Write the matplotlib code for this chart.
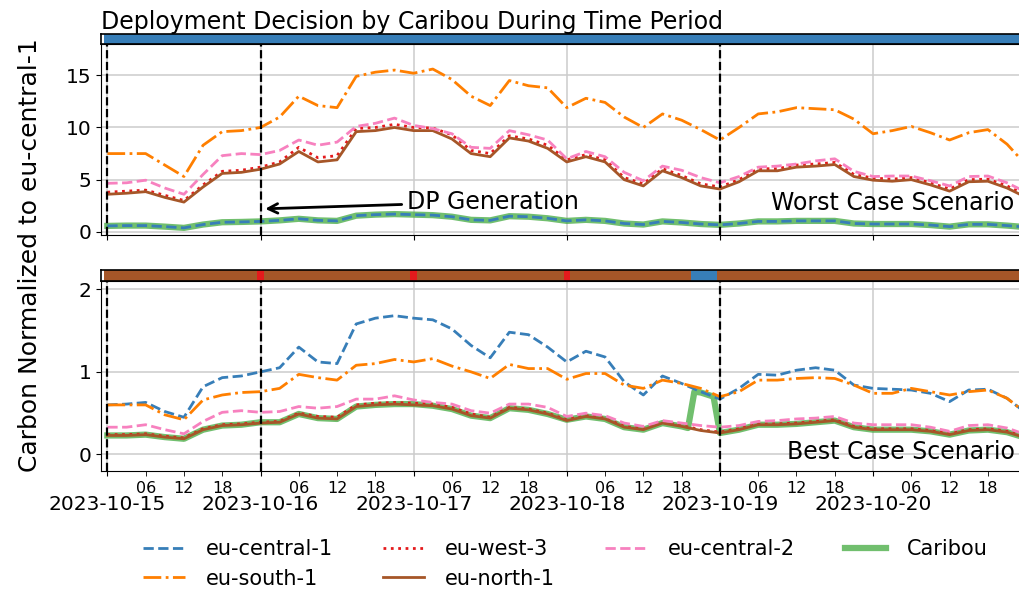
import pandas as pd
import matplotlib
matplotlib.use("Agg")
import matplotlib.pyplot as plt
import matplotlib.dates as mdates

OUTPUT_PATH = "out.png"

# 3-hourly samples starting 2023-10-15 00:00 (49 points)
times = pd.date_range("2023-10-15 00:00", periods=49, freq="3h")

# ---- worst case (top panel) ----
central1_worst = [0.57, 0.6, 0.6, 0.5, 0.38, 0.7, 0.92, 0.95, 1.0, 1.1, 1.25, 1.1, 1.05,
                  1.55, 1.65, 1.7, 1.65, 1.6, 1.45, 1.15, 1.1, 1.5, 1.45, 1.3, 1.05, 1.15,
                  1.05, 0.8, 0.7, 1.0, 0.9, 0.75, 0.67, 0.8, 1.0, 1.0, 1.05, 1.05, 1.05,
                  0.8, 0.75, 0.75, 0.75, 0.65, 0.5, 0.72, 0.72, 0.6, 0.45]
south1_worst = [7.5, 7.5, 7.5, 6.4, 5.3, 8.3, 9.6, 9.7, 10.0, 11.0, 13.0, 12.1, 11.9,
                14.9, 15.3, 15.5, 15.2, 15.6, 14.6, 13.0, 12.1, 14.5, 14.0, 13.8, 11.9,
                12.8, 12.4, 11.0, 10.0, 11.3, 10.7, 9.8, 8.8, 10.0, 11.3, 11.5, 11.9,
                11.8, 11.7, 10.8, 9.4, 9.7, 10.1, 9.5, 8.8, 9.5, 9.8, 8.4, 6.4]
west3_worst = [3.8, 3.9, 4.0, 3.5, 3.0, 4.5, 5.8, 5.9, 6.2, 6.7, 8.1, 7.1, 7.3, 9.9,
               10.0, 10.3, 10.0, 9.95, 9.3, 7.8, 7.5, 9.2, 8.9, 8.3, 6.9, 7.4, 6.9, 5.2,
               4.6, 6.05, 5.4, 4.6, 4.3, 5.0, 6.05, 6.05, 6.4, 6.5, 6.65, 5.5, 5.15,
               5.05, 5.2, 4.7, 4.1, 5.0, 5.05, 4.4, 3.5]
north1_worst = [3.6, 3.7, 3.85, 3.3, 2.85, 4.3, 5.6, 5.7, 6.0, 6.5, 7.7, 6.7, 6.9, 9.6,
                9.7, 10.0, 9.7, 9.7, 8.9, 7.5, 7.2, 9.0, 8.7, 8.0, 6.7, 7.2, 6.7, 5.0,
                4.4, 5.85, 5.2, 4.4, 4.1, 4.8, 5.85, 5.85, 6.2, 6.3, 6.45, 5.3, 4.95,
                4.85, 5.0, 4.5, 3.9, 4.8, 4.85, 4.2, 3.3]
central2_worst = [4.65, 4.7, 4.95, 4.2, 3.6, 5.5, 7.3, 7.5, 7.4, 7.8, 8.8, 8.3, 8.6,
                  10.1, 10.4, 10.9, 10.2, 9.9, 9.4, 8.1, 8.0, 9.7, 9.3, 8.8, 7.0, 7.7,
                  7.2, 5.7, 4.9, 6.3, 5.9, 5.2, 4.7, 5.3, 6.2, 6.3, 6.5, 6.8, 7.0, 5.8,
                  5.3, 5.35, 5.35, 4.9, 4.4, 5.3, 5.35, 4.7, 3.8]
caribou_worst = [0.57, 0.6, 0.6, 0.5, 0.38, 0.7, 0.92, 0.95, 1.0, 1.1, 1.25, 1.1, 1.05,
                 1.55, 1.65, 1.7, 1.65, 1.6, 1.45, 1.15, 1.1, 1.5, 1.45, 1.3, 1.05, 1.15,
                 1.05, 0.8, 0.7, 1.0, 0.9, 0.75, 0.67, 0.8, 1.0, 1.0, 1.05, 1.05, 1.05,
                 0.8, 0.75, 0.75, 0.75, 0.65, 0.5, 0.72, 0.72, 0.6, 0.45]

# ---- best case (bottom panel) ----
central1_best = [0.6, 0.61, 0.63, 0.52, 0.45, 0.82, 0.93, 0.95, 1.0, 1.05, 1.3, 1.12,
                 1.1, 1.58, 1.65, 1.68, 1.65, 1.63, 1.52, 1.32, 1.17, 1.48, 1.45, 1.3,
                 1.12, 1.25, 1.18, 0.88, 0.72, 0.95, 0.86, 0.76, 0.67, 0.8, 0.97, 0.96,
                 1.02, 1.05, 1.02, 0.84, 0.8, 0.79, 0.78, 0.74, 0.64, 0.78, 0.79, 0.68, 0.5]
south1_best = [0.6, 0.6, 0.6, 0.48, 0.42, 0.66, 0.72, 0.75, 0.76, 0.8, 0.97, 0.93, 0.9,
               1.08, 1.1, 1.15, 1.12, 1.16, 1.07, 1.0, 0.92, 1.09, 1.04, 1.04, 0.91,
               0.98, 0.98, 0.84, 0.8, 0.9, 0.86, 0.8, 0.7, 0.76, 0.9, 0.9, 0.92, 0.93,
               0.92, 0.84, 0.74, 0.74, 0.8, 0.76, 0.72, 0.76, 0.78, 0.68, 0.5]
west3_best = [0.24, 0.24, 0.25, 0.22, 0.2, 0.31, 0.36, 0.37, 0.39, 0.4, 0.5, 0.46, 0.45,
              0.6, 0.62, 0.63, 0.62, 0.61, 0.57, 0.49, 0.45, 0.57, 0.55, 0.5, 0.42,
              0.47, 0.44, 0.34, 0.31, 0.39, 0.35, 0.3, 0.27, 0.31, 0.37, 0.37, 0.38,
              0.4, 0.42, 0.34, 0.31, 0.31, 0.31, 0.29, 0.25, 0.3, 0.31, 0.28, 0.21]
north1_best = [0.23, 0.23, 0.24, 0.21, 0.19, 0.3, 0.35, 0.36, 0.38, 0.39, 0.49, 0.44,
               0.43, 0.58, 0.6, 0.61, 0.6, 0.59, 0.55, 0.47, 0.44, 0.56, 0.54, 0.49,
               0.41, 0.46, 0.43, 0.33, 0.3, 0.38, 0.34, 0.29, 0.26, 0.3, 0.36, 0.36,
               0.37, 0.39, 0.41, 0.33, 0.3, 0.3, 0.3, 0.28, 0.24, 0.29, 0.3, 0.27, 0.2]
central2_best = [0.33, 0.33, 0.36, 0.3, 0.25, 0.4, 0.51, 0.53, 0.51, 0.52, 0.58, 0.56,
                 0.58, 0.67, 0.67, 0.71, 0.66, 0.63, 0.61, 0.53, 0.5, 0.61, 0.61, 0.57,
                 0.46, 0.5, 0.47, 0.38, 0.34, 0.41, 0.38, 0.35, 0.33, 0.35, 0.4, 0.41,
                 0.43, 0.44, 0.46, 0.38, 0.36, 0.36, 0.36, 0.33, 0.28, 0.35, 0.36, 0.32, 0.24]
# Caribou best case has extra hourly points around the switch on 2023-10-18 evening
caribou_best_hours = list(range(0, 91, 3)) + [91, 92, 93, 95, 96] + list(range(99, 145, 3))
caribou_best = [0.23, 0.23, 0.24, 0.21, 0.19, 0.3, 0.35, 0.36, 0.39, 0.39, 0.49, 0.44,
                0.43, 0.58, 0.6, 0.61, 0.61, 0.59, 0.55, 0.47, 0.44, 0.56, 0.54, 0.49,
                0.42, 0.46, 0.43, 0.33, 0.3, 0.38, 0.34, 0.32, 0.76, 0.75, 0.7, 0.26,
                0.3, 0.36, 0.36, 0.37, 0.39, 0.41, 0.33, 0.3, 0.3, 0.3, 0.28, 0.24, 0.29,
                0.3, 0.27, 0.2]

# Deployment decision per hour (144 hours): base region + exceptions
worst_base = "eu-central-1"
worst_exceptions = {}
best_base = "eu-north-1"
best_exceptions = {24: "eu-west-3", 48: "eu-west-3", 72: "eu-west-3",
                   92: "eu-central-1", 93: "eu-central-1", 94: "eu-central-1", 95: "eu-central-1"}

dp_lines = ["2023-10-15 00:00", "2023-10-16 00:00", "2023-10-19 00:00"]

REGIONS = ["eu-central-1", "eu-south-1", "eu-west-3", "eu-north-1", "eu-central-2"]
COLORS = {"eu-central-1": "#377eb8", "eu-south-1": "#ff7f00", "eu-west-3": "#e41a1c",
          "eu-north-1": "#a65628", "eu-central-2": "#f781bf"}
STYLES = {"eu-central-1": "--", "eu-south-1": "-.", "eu-west-3": ":",
          "eu-north-1": "-", "eu-central-2": "--"}

start = pd.Timestamp("2023-10-15 00:00")
xmin = start - pd.Timedelta(hours=1)
xmax = start + pd.Timedelta(hours=143.05)


def draw_bar(ax, base, exceptions):
    segs = {}
    for h in range(144):
        reg = exceptions.get(h, base)
        t0 = mdates.date2num(start + pd.Timedelta(hours=h - 0.5))
        segs.setdefault(reg, []).append((t0, 1 / 24))
    for reg, s in segs.items():
        ax.broken_barh(s, (0, 1), facecolors=COLORS[reg], edgecolor="none")
    ax.set_xlim(xmin, xmax)
    ax.set_ylim(0, 1)
    ax.set_xticks([])
    ax.set_yticks([])
    for sp in ax.spines.values():
        sp.set_linewidth(1.2)


def draw_panel(ax, series, caribou_t, caribou_v):
    ax.plot(caribou_t, caribou_v, color="#4daf4a", alpha=0.8, lw=4.5, zorder=2)
    for reg in REGIONS:
        ax.plot(times, series[reg], color=COLORS[reg], ls=STYLES[reg], lw=2, zorder=3)
    for d in dp_lines:
        ax.axvline(pd.Timestamp(d), color="black", ls="--", lw=1.6, zorder=4)
    ax.set_xlim(xmin, xmax)
    ax.grid(True, color="#cccccc", lw=1.1)
    ax.xaxis.set_major_locator(mdates.DayLocator())
    ax.tick_params(axis="both", which="major", labelsize=14.5)


fig = plt.figure(figsize=(10.19, 5.97), dpi=100)
L, W = 0.0991, 0.902
ax_bar_top = fig.add_axes([L, 0.9263, W, 0.0167])
ax_top = fig.add_axes([L, 0.6064, W, 0.3199])
ax_bar_bot = fig.add_axes([L, 0.5293, W, 0.0184])
ax_bot = fig.add_axes([L, 0.2111, W, 0.3182])

draw_bar(ax_bar_top, worst_base, worst_exceptions)
draw_bar(ax_bar_bot, best_base, best_exceptions)

worst = {"eu-central-1": central1_worst, "eu-south-1": south1_worst,
         "eu-west-3": west3_worst, "eu-north-1": north1_worst, "eu-central-2": central2_worst}
best = {"eu-central-1": central1_best, "eu-south-1": south1_best,
        "eu-west-3": west3_best, "eu-north-1": north1_best, "eu-central-2": central2_best}

draw_panel(ax_top, worst, times, caribou_worst)
caribou_best_t = [start + pd.Timedelta(hours=h) for h in caribou_best_hours]
draw_panel(ax_bot, best, caribou_best_t, caribou_best)

ax_top.set_ylim(-0.3, 18.0)
ax_top.set_yticks([0, 5, 10, 15])
ax_top.tick_params(axis="x", labelbottom=False)

ax_bot.set_ylim(-0.2, 2.1)
ax_bot.set_yticks([0, 1, 2])
ax_bot.xaxis.set_major_formatter(mdates.DateFormatter("%Y-%m-%d"))
ax_bot.xaxis.set_minor_locator(mdates.HourLocator(byhour=[6, 12, 18]))
ax_bot.xaxis.set_minor_formatter(mdates.DateFormatter("%H"))
ax_bot.tick_params(axis="x", which="major", pad=14, labelsize=14.5)
ax_bot.tick_params(axis="x", which="minor", length=3.5, labelsize=11.5)

ax_bar_top.set_title("Deployment Decision by Caribou During Time Period",
                     loc="left", fontsize=17, pad=3)

ax_top.annotate("DP Generation", xy=(start + pd.Timedelta(hours=24.3), 2.2),
                xytext=(start + pd.Timedelta(hours=47), 2.9),
                fontsize=17, ha="left", va="center",
                arrowprops=dict(arrowstyle="->", color="black", lw=2))
ax_top.text(0.994, 0.17, "Worst Case Scenario", transform=ax_top.transAxes,
            ha="right", va="center", fontsize=17)
ax_bot.text(0.994, 0.10, "Best Case Scenario", transform=ax_bot.transAxes,
            ha="right", va="center", fontsize=17)

fig.text(0.029, 0.573, "Carbon Normalized to eu-central-1", rotation=90,
         ha="center", va="center", fontsize=18)

handles = []
labels = []
for reg in REGIONS:
    h, = ax_bot.plot([], [], color=COLORS[reg], ls=STYLES[reg], lw=2)
    handles.append(h)
    labels.append(reg)
h, = ax_bot.plot([], [], color="#4daf4a", alpha=0.8, lw=4.5)
handles.append(h)
labels.append("Caribou")
fig.legend(handles, labels, loc="upper center", bbox_to_anchor=(0.555, 0.128),
           ncol=4, frameon=False, fontsize=15, columnspacing=2.4, handlelength=2.0,
           handletextpad=1.0, labelspacing=0.45)

fig.savefig(OUTPUT_PATH, dpi=100)
print(f"Saved plot to {OUTPUT_PATH}")
